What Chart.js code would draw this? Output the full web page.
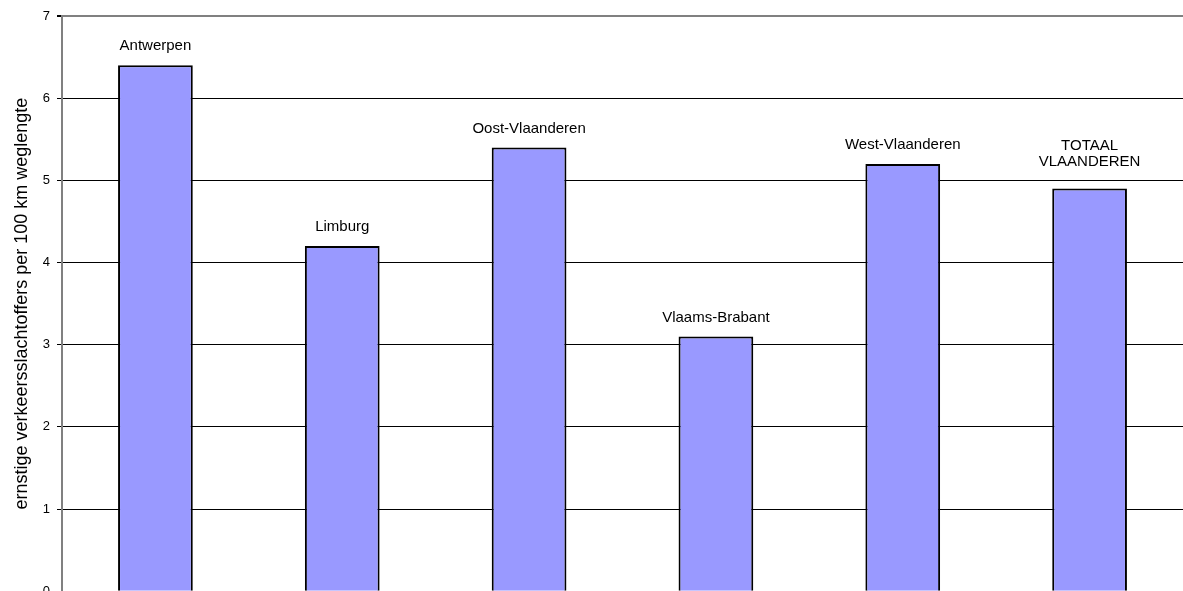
<!DOCTYPE html>
<html>
<head>
<meta charset="utf-8">
<script src="https://cdn.jsdelivr.net/npm/chart.js@4/dist/chart.umd.min.js"></script>
<style>
  html, body { margin: 0; padding: 0; background: #fff; overflow: hidden; }
  #wrap { width: 1183px; height: 606px; position: relative; }
</style>
</head>
<body>
<div id="wrap"><canvas id="provChart"></canvas></div>
<script>
// data
const provinces = ["Antwerpen", "Limburg", "Oost-Vlaanderen", "Vlaams-Brabant", "West-Vlaanderen", ["TOTAAL", "VLAANDEREN"]];
const victims = [6.4, 4.2, 5.4, 3.1, 5.2, 4.9];
const yTicks = [0, 1, 2, 3, 4, 5, 6, 7];

// labels above the bars
const barLabels = {
  id: "barLabels",
  afterDatasetsDraw(chart) {
    const ctx = chart.ctx;
    const meta = chart.getDatasetMeta(0);
    ctx.save();
    ctx.font = "15px 'Liberation Sans', Arial, sans-serif";
    ctx.fillStyle = "#000";
    ctx.textAlign = "center";
    ctx.textBaseline = "middle";
    meta.data.forEach(function (bar, i) {
      let lines = provinces[i];
      if (!Array.isArray(lines)) lines = [lines];
      const base = bar.y - 19 - (lines.length > 1 ? 8 : 0);
      for (let k = 0; k < lines.length; k++) {
        ctx.fillText(lines[k], bar.x, base - (lines.length - 1 - k) * 16);
      }
    });
    ctx.restore();
  },
};

const el = document.getElementById("provChart");
new Chart(el, {
  type: "bar",
  data: {
    labels: provinces,
    datasets: [
      {
        data: victims,
        backgroundColor: "#9999FF",
        borderColor: "#000",
        borderWidth: 2,
        barPercentage: 0.4,
        categoryPercentage: 1,
      },
    ],
  },
  options: {
    responsive: true,
    maintainAspectRatio: false,
    animation: false,
    layout: { padding: { top: 16, right: 0, bottom: 9, left: 0 } },
    plugins: {
      legend: { display: false },
      tooltip: { enabled: false },
    },
    scales: {
      x: {
        display: false,
      },
      y: {
        min: 0,
        max: 7,
        afterBuildTicks(scale) {
          scale.ticks = yTicks.map(function (v) { return { value: v }; });
        },
        afterFit(scale) {
          scale.width = 62;
        },
        ticks: {
          color: "#000",
          font: { family: "'Liberation Sans', Arial, sans-serif", size: 13 },
          padding: 7,
        },
        grid: {
          color: function (c) { return c.tick && c.tick.value === 7 ? "#808080" : "#000"; },
          lineWidth: function (c) { return c.tick && c.tick.value === 7 ? 2 : 1; },
          tickColor: "#000",
          tickLength: 5,
        },
        border: { color: "#808080", width: 2 },
        title: {
          display: true,
          text: "ernstige verkeersslachtoffers per 100 km weglengte",
          color: "#000",
          font: { family: "'Liberation Sans', Arial, sans-serif", size: 18 },
          padding: { top: 11, bottom: 0 },
        },
      },
    },
  },
  plugins: [barLabels],
});
</script>
</body>
</html>
